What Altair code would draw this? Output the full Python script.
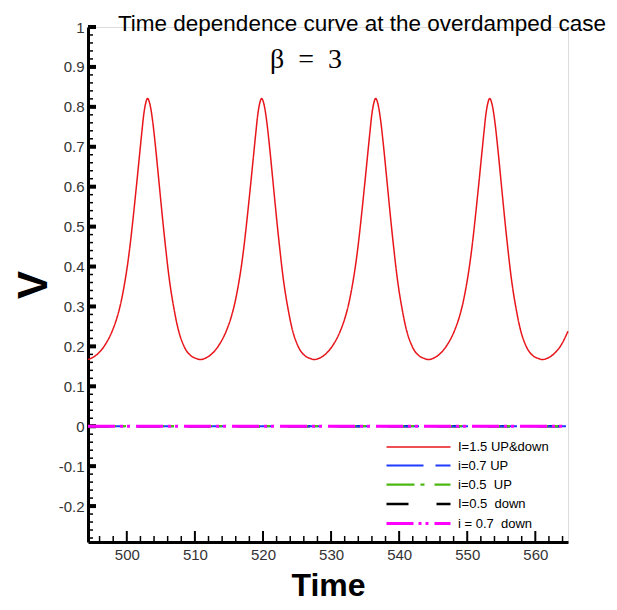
import altair as alt
import pandas as pd

FONT = "Liberation Sans, Arial, sans-serif"

# ---------------- data ----------------
SERIES = ["I=1.5 UP&down", "i=0.7 UP", "i=0.5\u00a0\u00a0UP", "I=0.5\u00a0\u00a0down", "i\u00a0=\u00a00.7\u00a0\u00a0down"]
COLORS = ["#e8161b", "#1f3bff", "#4db814", "#000000", "#ff00ff"]
DASHES = [[1, 0], [37, 12], [28, 6, 4, 10], [22, 28], [27, 5, 3, 4, 3, 6]]
WIDTHS = [1.5, 3, 3, 3, 3]

# red curve (I = 1.5), cycle by cycle
RED_T_0 = [494.30, 494.85, 495.65, 496.89, 497.87, 498.61, 499.11, 499.50, 499.99, 500.34, 500.58, 500.93,
           501.32, 501.57, 501.92, 502.21, 502.46, 502.80, 503.05, 503.44, 503.79, 504.13, 504.53, 504.78,
           505.02, 505.42, 505.76, 506.01, 506.40, 506.90, 507.49, 508.47, 509.46, 510.15]
RED_V_0 = [0.167, 0.171, 0.180, 0.206, 0.239, 0.275, 0.308, 0.341, 0.391, 0.434, 0.468, 0.522,
           0.586, 0.628, 0.688, 0.737, 0.777, 0.811, 0.821, 0.803, 0.765, 0.714, 0.646, 0.602,
           0.560, 0.492, 0.438, 0.400, 0.349, 0.297, 0.247, 0.198, 0.176, 0.170]
RED_T_1 = [510.80, 511.60, 512.40, 513.64, 514.62, 515.36, 515.86, 516.25, 516.74, 517.09, 517.33, 517.68,
           518.07, 518.32, 518.67, 518.96, 519.21, 519.55, 519.80, 520.19, 520.54, 520.88, 521.28, 521.53,
           521.77, 522.17, 522.51, 522.76, 523.15, 523.65, 524.24, 525.22, 526.21, 526.90]
RED_V_1 = [0.167, 0.171, 0.180, 0.206, 0.239, 0.275, 0.308, 0.341, 0.391, 0.434, 0.468, 0.522,
           0.586, 0.628, 0.688, 0.737, 0.777, 0.811, 0.821, 0.803, 0.765, 0.714, 0.646, 0.602,
           0.560, 0.492, 0.438, 0.400, 0.349, 0.297, 0.247, 0.198, 0.176, 0.170]
RED_T_2 = [527.55, 528.35, 529.15, 530.39, 531.37, 532.11, 532.61, 533.00, 533.49, 533.84, 534.08, 534.43,
           534.82, 535.07, 535.42, 535.71, 535.96, 536.30, 536.55, 536.94, 537.29, 537.63, 538.03, 538.28,
           538.52, 538.92, 539.26, 539.51, 539.90, 540.40, 540.99, 541.97, 542.96, 543.65]
RED_V_2 = [0.167, 0.171, 0.180, 0.206, 0.239, 0.275, 0.308, 0.341, 0.391, 0.434, 0.468, 0.522,
           0.586, 0.628, 0.688, 0.737, 0.777, 0.811, 0.821, 0.803, 0.765, 0.714, 0.646, 0.602,
           0.560, 0.492, 0.438, 0.400, 0.349, 0.297, 0.247, 0.198, 0.176, 0.170]
RED_T_3 = [544.30, 545.10, 545.90, 547.14, 548.12, 548.86, 549.36, 549.75, 550.24, 550.59, 550.83, 551.18,
           551.57, 551.82, 552.17, 552.46, 552.71, 553.05, 553.30, 553.69, 554.04, 554.38, 554.78, 555.03,
           555.27, 555.67, 556.01, 556.26, 556.65, 557.15, 557.74, 558.72, 559.71, 560.40]
RED_V_3 = [0.167, 0.171, 0.180, 0.206, 0.239, 0.275, 0.308, 0.341, 0.391, 0.434, 0.468, 0.522,
           0.586, 0.628, 0.688, 0.737, 0.777, 0.811, 0.821, 0.803, 0.765, 0.714, 0.646, 0.602,
           0.560, 0.492, 0.438, 0.400, 0.349, 0.297, 0.247, 0.198, 0.176, 0.170]
RED_T_4 = [561.05, 561.85, 562.65, 563.89, 564.80]
RED_V_4 = [0.167, 0.171, 0.180, 0.206, 0.238]

# the four flat series (all at V = 0 across the window)
FLAT_T = [494.3, 564.8]
FLAT_V = [0.0, 0.0]

X_DOMAIN = [494.3, 564.8]
Y_DOMAIN = [-0.29, 1.0]
X_MAJOR = [500, 510, 520, 530, 540, 550, 560]
X_MINOR = [496, 498, 502, 504, 506, 508, 512, 514, 516, 518, 522, 524, 526, 528, 532, 534, 536, 538,
           542, 544, 546, 548, 552, 554, 556, 558, 562, 564]
Y_MAJOR = [-0.2, -0.1, 0.0, 0.1, 0.2, 0.3, 0.4, 0.5, 0.6, 0.7, 0.8, 0.9, 1.0]
Y_MINOR = [-0.28, -0.26, -0.24, -0.22, -0.18, -0.16, -0.14, -0.12, -0.08, -0.06, -0.04, -0.02,
           0.02, 0.04, 0.06, 0.08, 0.12, 0.14, 0.16, 0.18, 0.22, 0.24, 0.26, 0.28,
           0.32, 0.34, 0.36, 0.38, 0.42, 0.44, 0.46, 0.48, 0.52, 0.54, 0.56, 0.58,
           0.62, 0.64, 0.66, 0.68, 0.72, 0.74, 0.76, 0.78, 0.82, 0.84, 0.86, 0.88,
           0.92, 0.94, 0.96, 0.98]

TITLE = "Time dependence curve at the overdamped case"
SUBTITLE = "\u03b2\u00a0\u00a0=\u00a0\u00a03"

# ---------------- tables ----------------
red_t = RED_T_0 + RED_T_1 + RED_T_2 + RED_T_3 + RED_T_4
red_v = RED_V_0 + RED_V_1 + RED_V_2 + RED_V_3 + RED_V_4
rows = [{"t": t, "v": v, "s": SERIES[0]} for t, v in zip(red_t, red_v)]
for name in SERIES[1:]:
    rows += [{"t": t, "v": v, "s": name} for t, v in zip(FLAT_T, FLAT_V)]
lines = pd.DataFrame(rows)

W, H = 480, 515

xscale = alt.Scale(domain=X_DOMAIN, nice=False, zero=False)
yscale = alt.Scale(domain=Y_DOMAIN, nice=False, zero=False)

xaxis = alt.Axis(values=X_MAJOR, format="d", ticks=False, tickSize=0, grid=False,
                 domainColor="black", domainWidth=3, labelFont=FONT, labelFontSize=15,
                 labelColor="#333333", labelPadding=5, labelOverlap=False, labelFlush=False,
                 title="Time", titleFont=FONT, titleFontWeight="bold",
                 titleFontSize=32, titleColor="black", titleBaseline="alphabetic", titleY=53)
yaxis = alt.Axis(values=Y_MAJOR, ticks=False, tickSize=0, grid=False,
                 labelExpr="datum.value < 0 ? '-' + format(-datum.value, '.1~f') : format(datum.value, '.1~f')",
                 domainColor="black", domainWidth=3, labelFont=FONT, labelFontSize=15,
                 labelColor="#333333", labelPadding=4, labelOverlap=False,
                 title="V", titleFont=FONT, titleFontWeight="bold",
                 titleFontSize=42, titleColor="black", titlePadding=3)

X = alt.X("t:Q", scale=xscale, axis=xaxis, title="Time")
Y = alt.Y("v:Q", scale=yscale, axis=yaxis, title="V")

legend = alt.Legend(title=None, orient="none", legendX=321, legendY=411, padding=0,
                    symbolType="M-4,0H4", symbolSize=256, labelOffset=30, rowPadding=2.5,
                    labelFont=FONT, labelFontSize=13, labelColor="black", labelLimit=300)

C = alt.Color("s:N", scale=alt.Scale(domain=SERIES, range=COLORS), legend=legend)
D = alt.StrokeDash("s:N", scale=alt.Scale(domain=SERIES, range=DASHES), legend=legend)
SW = alt.StrokeWidth("s:N", scale=alt.Scale(domain=SERIES, range=WIDTHS), legend=legend)

def series_layer(name):
    return (alt.Chart(lines).transform_filter(alt.datum.s == name)
            .mark_line(interpolate="monotone")
            .encode(x=X, y=Y, color=C, strokeDash=D, strokeWidth=SW, order="t:Q"))

# tick marks (pointing inward)
xmaj = alt.Chart(pd.DataFrame({"t": X_MAJOR})).mark_rule(color="black", strokeWidth=2).encode(
    x=X, y=alt.value(H), y2=alt.value(H - 11))
xmin = alt.Chart(pd.DataFrame({"t": X_MINOR})).mark_rule(color="black", strokeWidth=1.5).encode(
    x=X, y=alt.value(H), y2=alt.value(H - 6))
ymaj = alt.Chart(pd.DataFrame({"v": Y_MAJOR})).mark_rule(color="black", strokeWidth=4).encode(
    y=Y, x=alt.value(0), x2=alt.value(8))
ymin = alt.Chart(pd.DataFrame({"v": Y_MINOR})).mark_rule(color="black", strokeWidth=1.5).encode(
    y=Y, x=alt.value(0), x2=alt.value(5))

ann = pd.DataFrame({"title": [TITLE], "sub": [SUBTITLE]})
title = alt.Chart(ann).mark_text(font=FONT, fontSize=22.5, align="center", baseline="alphabetic",
                                 color="black").encode(x=alt.value(274), y=alt.value(4), text="title:N")
sub = alt.Chart(ann).mark_text(font="Liberation Serif, DejaVu Serif, serif", fontSize=28, align="center",
                               baseline="alphabetic", color="black").encode(
    x=alt.value(218), y=alt.value(41), text="sub:N")

chart = alt.layer(
    xmin, xmaj, ymin, ymaj,
    series_layer(SERIES[0]),
    series_layer(SERIES[3]),
    series_layer(SERIES[1]),
    series_layer(SERIES[2]),
    series_layer(SERIES[4]),
    title, sub,
).properties(
    width=W, height=H,
    padding={"left": 80, "top": 19, "right": 41, "bottom": 60},
    autosize=alt.AutoSizeParams(type="none"),
).configure_view(stroke=None).configure(background="white")

chart.save("out.html", embed_options={"renderer": "svg", "actions": False})
